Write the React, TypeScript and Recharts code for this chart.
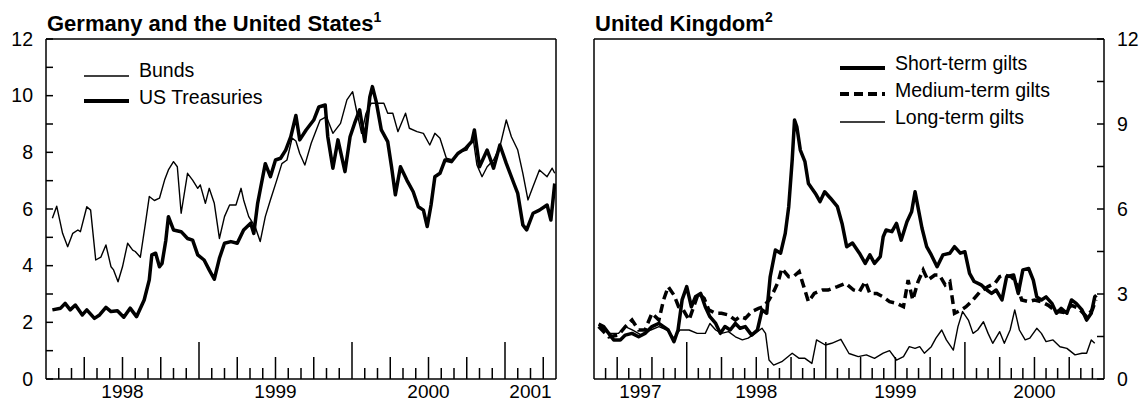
import React from 'react';
import { LineChart, Line, XAxis, YAxis, ReferenceLine } from 'recharts';

// x values are months counted from January 1997 (12 = Jan 1998, 48 = Jan 2001)
const bundsMonth = [12.5, 12.84, 13.3, 13.7, 14.1, 14.5, 14.7, 15.2, 15.5, 15.9, 16.3, 16.7, 17.1, 17.3, 17.65, 18.0, 18.4, 18.8, 19.0, 19.4, 19.8, 20.1, 20.5, 20.9, 21.3, 21.6, 22.0, 22.3, 22.6, 23.1, 23.5, 23.9, 24.1, 24.5, 24.8, 25.2, 25.6, 26.0, 26.4, 26.9, 27.3, 27.5, 27.9, 28.4, 28.8, 29.2, 29.6, 30.1, 30.5, 30.9, 31.3, 31.6, 31.9, 32.3, 32.8, 33.5, 34.0, 34.5, 35.1, 35.6, 36.05, 36.4, 36.75, 37.1, 37.5, 38.1, 38.5, 38.8, 39.2, 39.6, 40.2, 40.5, 41.1, 41.6, 42.1, 42.5, 42.9, 43.4, 43.9, 44.5, 45.0, 45.5, 45.8, 46.2, 46.6, 47.1, 47.6, 48.1, 48.5, 49.0, 49.4, 49.8, 50.2, 50.7, 51.3, 51.7, 51.9];
const bundsVol = [5.67, 6.1, 5.14, 4.67, 5.14, 5.26, 5.2, 6.08, 5.96, 4.2, 4.3, 4.73, 3.96, 3.85, 3.43, 3.96, 4.79, 4.55, 4.5, 4.3, 5.5, 6.44, 6.3, 6.38, 7.02, 7.38, 7.67, 7.49, 5.85, 7.26, 7.02, 6.73, 6.85, 6.2, 6.73, 6.2, 4.96, 5.73, 6.14, 6.14, 6.73, 6.32, 5.73, 5.38, 4.85, 5.73, 6.32, 7.02, 7.6, 7.73, 8.5, 8.4, 7.96, 7.55, 8.32, 9.14, 9.26, 8.67, 9.02, 9.85, 10.14, 9.38, 8.67, 9.38, 9.73, 9.73, 9.73, 9.38, 9.38, 8.73, 9.38, 8.85, 8.73, 8.67, 8.26, 8.67, 8.5, 7.79, 7.73, 8.02, 8.08, 8.5, 7.55, 7.14, 7.49, 7.73, 8.2, 9.14, 8.55, 8.08, 7.26, 6.32, 6.79, 7.38, 7.14, 7.44, 7.26];

const treasMonth = [12.5, 13.15, 13.5, 13.9, 14.3, 14.85, 15.2, 15.8, 16.2, 16.7, 17.1, 17.6, 18.1, 18.6, 19.1, 19.7, 20.1, 20.3, 20.6, 20.9, 21.1, 21.4, 21.6, 22.0, 22.6, 23.1, 23.5, 23.9, 24.4, 24.8, 25.2, 25.6, 26.0, 26.5, 27.0, 27.5, 28.05, 28.3, 28.6, 28.8, 29.2, 29.6, 30.0, 30.4, 30.8, 31.2, 31.6, 31.9, 32.4, 33.0, 33.4, 33.9, 34.1, 34.5, 34.9, 35.45, 35.85, 36.2, 36.6, 37.0, 37.4, 37.6, 37.9, 38.3, 38.8, 39.1, 39.4, 39.8, 40.3, 40.8, 41.2, 41.6, 41.9, 42.2, 42.5, 42.9, 43.3, 43.8, 44.3, 44.9, 45.4, 45.6, 46.0, 46.6, 47.1, 47.6, 48.1, 48.7, 49.0, 49.4, 49.7, 50.2, 50.7, 51.3, 51.6, 51.9];
const treasVol = [2.44, 2.5, 2.67, 2.44, 2.61, 2.26, 2.44, 2.14, 2.26, 2.53, 2.38, 2.41, 2.18, 2.5, 2.2, 2.79, 3.5, 4.38, 4.44, 3.96, 4.08, 4.9, 5.73, 5.26, 5.2, 4.96, 4.9, 4.38, 4.2, 3.85, 3.52, 4.26, 4.79, 4.85, 4.79, 5.26, 5.5, 5.14, 6.2, 6.67, 7.6, 7.14, 7.73, 7.79, 8.08, 8.55, 9.3, 8.44, 8.79, 9.14, 9.6, 9.67, 8.55, 7.44, 8.44, 7.32, 8.55, 9.02, 9.5, 8.38, 9.96, 10.32, 9.79, 8.79, 8.38, 7.49, 6.5, 7.49, 7.02, 6.61, 6.08, 5.96, 5.38, 6.14, 7.14, 7.26, 7.73, 7.67, 7.96, 8.14, 8.38, 8.79, 7.49, 8.08, 7.44, 8.26, 7.61, 6.9, 6.55, 5.44, 5.26, 5.85, 5.96, 6.14, 5.61, 6.9];

const shortMonth = [4.4, 4.83, 5.27, 5.7, 6.27, 6.7, 7.28, 7.85, 8.4, 9.0, 9.6, 10.0, 10.4, 10.9, 11.25, 11.6, 12.0, 12.4, 12.75, 13.2, 13.6, 14.0, 14.5, 14.9, 15.3, 15.75, 16.2, 16.6, 17.05, 17.6, 18.1, 18.5, 18.9, 19.2, 19.65, 20.1, 20.5, 20.8, 21.1, 21.3, 21.5, 21.8, 22.2, 22.5, 23.1, 23.5, 23.9, 24.4, 25.0, 25.4, 25.8, 26.3, 26.9, 27.4, 27.8, 28.2, 28.7, 28.95, 29.2, 29.7, 30.1, 30.5, 31.0, 31.4, 31.7, 32.0, 32.3, 32.7, 33.1, 33.6, 34.1, 34.7, 35.1, 35.6, 36.0, 36.4, 36.8, 37.4, 37.9, 38.3, 38.7, 39.2, 39.6, 40.2, 40.6, 41.0, 41.5, 41.9, 42.2, 42.6, 43.0, 43.5, 43.9, 44.3, 44.8, 45.2, 45.6, 46.1, 46.5, 46.9, 47.2, 47.35];
const shortVol = [1.94, 1.85, 1.61, 1.38, 1.38, 1.55, 1.61, 1.49, 1.61, 1.85, 1.96, 1.85, 1.73, 1.32, 1.73, 2.79, 3.26, 2.55, 2.9, 3.02, 2.55, 2.2, 1.96, 1.61, 1.85, 1.73, 1.96, 1.79, 1.85, 1.55, 1.73, 2.44, 2.32, 3.61, 4.55, 4.44, 5.14, 6.08, 7.73, 9.14, 8.9, 8.08, 7.67, 6.9, 6.55, 6.26, 6.61, 6.38, 6.08, 5.49, 4.67, 4.8, 4.44, 4.08, 4.38, 4.08, 4.32, 5.02, 5.26, 5.2, 5.49, 4.9, 5.55, 5.9, 6.61, 5.96, 5.32, 4.67, 4.38, 3.96, 4.38, 4.44, 4.67, 4.44, 4.49, 3.73, 3.44, 3.32, 3.14, 3.02, 3.14, 2.79, 3.61, 3.67, 3.02, 3.85, 3.9, 3.49, 2.9, 2.79, 2.9, 2.67, 2.32, 2.49, 2.32, 2.79, 2.67, 2.44, 2.08, 2.32, 2.9, 2.96];

const mediumMonth = [4.4, 5.27, 6.1, 6.7, 7.28, 7.85, 8.4, 9.0, 9.6, 10.0, 10.4, 10.9, 11.3, 11.7, 12.2, 12.6, 13.0, 13.5, 13.9, 14.5, 15.0, 15.6, 16.2, 16.6, 17.05, 17.6, 18.2, 18.6, 19.1, 19.5, 19.9, 20.2, 20.8, 21.2, 21.7, 22.1, 22.5, 23.0, 23.7, 24.2, 25.0, 25.7, 26.4, 26.9, 27.4, 27.8, 28.4, 28.95, 29.5, 30.1, 30.7, 31.1, 31.5, 31.96, 32.4, 32.8, 33.4, 33.8, 34.3, 34.7, 35.1, 35.7, 36.1, 36.7, 37.3, 38.0, 38.6, 39.0, 39.4, 40.0, 40.4, 40.9, 41.5, 42.0, 42.6, 43.2, 43.8, 44.5, 45.2, 45.8, 46.5, 47.0, 47.3];
const mediumVol = [1.85, 1.49, 1.55, 1.85, 2.08, 1.73, 1.73, 2.32, 2.08, 2.79, 3.26, 2.96, 2.55, 2.44, 2.08, 2.55, 3.02, 2.85, 2.44, 2.32, 2.32, 2.26, 2.08, 2.2, 2.14, 2.38, 2.49, 2.55, 2.79, 3.08, 3.44, 3.9, 3.61, 3.61, 3.79, 3.26, 2.73, 3.02, 3.14, 3.14, 3.26, 3.38, 3.14, 3.08, 3.44, 3.02, 3.02, 2.9, 2.73, 2.67, 2.55, 3.49, 2.79, 3.44, 3.85, 3.49, 3.67, 3.67, 3.32, 3.44, 2.32, 2.44, 2.55, 2.79, 3.08, 3.26, 3.38, 3.61, 3.67, 3.61, 3.44, 2.79, 2.73, 2.79, 2.73, 2.6, 2.4, 2.35, 2.6, 2.5, 2.2, 2.45, 2.8];

const longMonth = [4.4, 5.27, 6.1, 6.7, 7.3, 8.1, 8.9, 9.6, 10.3, 10.9, 11.4, 12.2, 12.9, 13.6, 14.0, 14.5, 15.0, 15.6, 16.2, 16.8, 17.3, 17.9, 18.5, 18.8, 19.1, 19.5, 20.2, 21.1, 21.7, 22.2, 22.8, 23.2, 23.96, 24.5, 25.3, 26.0, 26.8, 27.5, 28.2, 28.95, 29.5, 30.1, 30.7, 31.2, 31.7, 32.1, 32.5, 33.1, 33.5, 34.0, 34.4, 35.0, 35.4, 35.8, 36.3, 36.7, 37.1, 37.6, 38.0, 38.4, 39.0, 39.4, 39.9, 40.3, 40.7, 41.2, 41.6, 42.2, 42.6, 43.0, 43.6, 44.2, 44.8, 45.5, 46.1, 46.5, 46.9, 47.2];
const longVol = [1.9, 1.61, 1.61, 1.85, 1.73, 1.55, 1.73, 1.85, 1.73, 1.44, 1.73, 1.73, 1.61, 1.61, 1.96, 1.73, 1.61, 1.67, 1.49, 1.38, 1.44, 1.61, 1.79, 1.61, 0.67, 0.49, 0.61, 0.91, 0.73, 0.73, 0.55, 1.38, 1.2, 1.26, 1.4, 0.9, 0.79, 0.85, 0.73, 0.91, 1.0, 0.67, 0.79, 1.14, 1.08, 1.14, 0.91, 1.14, 1.44, 1.73, 1.38, 1.02, 1.85, 2.38, 2.08, 1.61, 1.73, 2.02, 1.61, 1.26, 1.67, 1.26, 1.73, 2.44, 1.73, 1.38, 1.44, 1.79, 1.61, 1.32, 1.38, 1.14, 1.08, 0.85, 0.91, 0.91, 1.38, 1.26];

const leftYearPos = [18, 30, 42, 50];
const leftYearLabels = ['1998', '1999', '2000', '2001'];
const rightYearPos = [8, 18, 30, 42];
const rightYearLabels = ['1997', '1998', '1999', '2000'];

const leftYTicks = [0, 1, 2, 3, 4, 5, 6, 7, 8, 9, 10, 11, 12];
const leftYLabels = [0, 2, 4, 6, 8, 10, 12];
const rightYTicks = [0, 1.5, 3, 4.5, 6, 7.5, 9, 10.5, 12];
const rightYLabels = [0, 3, 6, 9, 12];

const FONT = '"Liberation Sans", Arial, Helvetica, sans-serif';

const zip = (ms: number[], vs: number[]) => ms.map((m, i) => ({ m, v: vs[i] }));
const range = (a: number, b: number) => {
  const out: number[] = [];
  for (let i = a; i <= b; i++) out.push(i);
  return out;
};

const monthTick = (pos: number[], labels: string[]) => (props: any) => {
  const { x, y, payload } = props;
  const m = Math.round(payload.value);
  const len = m % 12 === 0 ? 37 : m % 3 === 0 ? 22 : 11;
  const idx = pos.indexOf(m);
  return (
    <g>
      <line x1={x} x2={x} y1={y} y2={y - len} stroke="#000" strokeWidth={1.5} />
      {idx >= 0 && (
        <text x={x} y={y + 19} textAnchor="middle" fontSize={19} fontFamily={FONT} fill="#000">
          {labels[idx]}
        </text>
      )}
    </g>
  );
};

const yTick = (side: 'left' | 'right', labels: number[]) => (props: any) => {
  const { x, y, payload } = props;
  const v = payload.value;
  const dir = side === 'left' ? 1 : -1;
  return (
    <g>
      <line x1={x} x2={x + dir * 7} y1={y} y2={y} stroke="#000" strokeWidth={1.5} />
      {labels.includes(v) && (
        <text
          x={side === 'left' ? x - 13 : x + 13}
          y={y}
          dy="0.35em"
          textAnchor={side === 'left' ? 'end' : 'start'}
          fontSize={19.5}
          fontFamily={FONT}
          fill="#000"
        >
          {v}
        </text>
      )}
    </g>
  );
};

const axisLine = { stroke: '#000', strokeWidth: 1.5 };

const LeftPanel = () => (
  <LineChart width={573} height={402} margin={{ top: 39, right: 0, bottom: 0, left: 0 }}>
    <XAxis
      dataKey="m"
      type="number"
      domain={[12, 52]}
      ticks={range(13, 51)}
      interval={0}
      tickSize={0}
      tickMargin={0}
      tickLine={false}
      axisLine={axisLine}
      height={23}
      tick={monthTick(leftYearPos, leftYearLabels)}
      allowDataOverflow
    />
    <YAxis yAxisId="l" type="number" domain={[0, 12]} ticks={leftYTicks} interval={0} width={46}
      tickSize={0} tickMargin={0} tickLine={false} axisLine={axisLine} tick={yTick('left', leftYLabels)} />
    <YAxis yAxisId="r" orientation="right" type="number" domain={[0, 12]} ticks={leftYTicks} interval={0} width={17}
      tickSize={0} tickMargin={0} tickLine={false} axisLine={axisLine} tick={yTick('right', [])} />
    <ReferenceLine yAxisId="l" y={12} stroke="#000" strokeWidth={1.5} />
    <Line yAxisId="l" data={zip(treasMonth, treasVol)} dataKey="v" type="linear" dot={false} stroke="#000"
      strokeWidth={3.5} strokeLinejoin="round" isAnimationActive={false} />
    <Line yAxisId="l" data={zip(bundsMonth, bundsVol)} dataKey="v" type="linear" dot={false} stroke="#000"
      strokeWidth={1.4} strokeLinejoin="round" isAnimationActive={false} />
  </LineChart>
);

const RightPanel = () => (
  <LineChart width={599} height={402} margin={{ top: 39, right: 0, bottom: 0, left: 0 }}>
    <XAxis
      dataKey="m"
      type="number"
      domain={[4, 48]}
      ticks={range(5, 47)}
      interval={0}
      tickSize={0}
      tickMargin={0}
      tickLine={false}
      axisLine={axisLine}
      height={23}
      tick={monthTick(rightYearPos, rightYearLabels)}
      allowDataOverflow
    />
    <YAxis yAxisId="l" type="number" domain={[0, 12]} ticks={rightYTicks} interval={0} width={46}
      tickSize={0} tickMargin={0} tickLine={false} axisLine={axisLine} tick={yTick('left', [])} />
    <YAxis yAxisId="r" orientation="right" type="number" domain={[0, 12]} ticks={rightYTicks} interval={0} width={43}
      tickSize={0} tickMargin={0} tickLine={false} axisLine={axisLine} tick={yTick('right', rightYLabels)} />
    <ReferenceLine yAxisId="r" y={12} stroke="#000" strokeWidth={1.5} />
    <Line yAxisId="r" data={zip(longMonth, longVol)} dataKey="v" type="linear" dot={false} stroke="#000"
      strokeWidth={1.4} strokeLinejoin="round" isAnimationActive={false} />
    <Line yAxisId="r" data={zip(mediumMonth, mediumVol)} dataKey="v" type="linear" dot={false} stroke="#000"
      strokeWidth={3.5} strokeDasharray="9 5" isAnimationActive={false} />
    <Line yAxisId="r" data={zip(shortMonth, shortVol)} dataKey="v" type="linear" dot={false} stroke="#000"
      strokeWidth={3.5} strokeLinejoin="round" isAnimationActive={false} />
  </LineChart>
);

const App = () => (
  <div style={{ position: 'relative', width: 1147, height: 402, background: '#fff', fontFamily: FONT }}>
    <style>{'body { margin: 0; }'}</style>
    <div style={{ position: 'absolute', left: 0, top: 0 }}>
      <LeftPanel />
    </div>
    <div style={{ position: 'absolute', left: 548, top: 0 }}>
      <RightPanel />
    </div>
    <svg width={1147} height={402} style={{ position: 'absolute', left: 0, top: 0, pointerEvents: 'none' }}>
      <g fontFamily={FONT} fill="#000">
        <text x={47} y={31} fontSize={22} fontWeight="bold">
          Germany and the United States<tspan fontSize={14} dy={-9}>1</tspan>
        </text>
        <text x={595} y={31} fontSize={22} fontWeight="bold">
          United Kingdom<tspan fontSize={14} dy={-9}>2</tspan>
        </text>

        <line x1={84} x2={129} y1={76} y2={76} stroke="#000" strokeWidth={1.5} />
        <text x={139} y={77} fontSize={19.5}>Bunds</text>
        <line x1={84} x2={129} y1={101} y2={101} stroke="#000" strokeWidth={4} />
        <text x={139} y={104} fontSize={19.5}>US Treasuries</text>

        <line x1={840} x2={885} y1={68} y2={68} stroke="#000" strokeWidth={4} />
        <text x={895} y={70} fontSize={19.5}>Short-term gilts</text>
        <line x1={840} x2={885} y1={94} y2={94} stroke="#000" strokeWidth={4} strokeDasharray="9 5" />
        <text x={895} y={97} fontSize={19.5}>Medium-term gilts</text>
        <line x1={840} x2={885} y1={122} y2={122} stroke="#000" strokeWidth={1.5} />
        <text x={895} y={124} fontSize={19.5}>Long-term gilts</text>
      </g>
    </svg>
  </div>
);

export default App;
